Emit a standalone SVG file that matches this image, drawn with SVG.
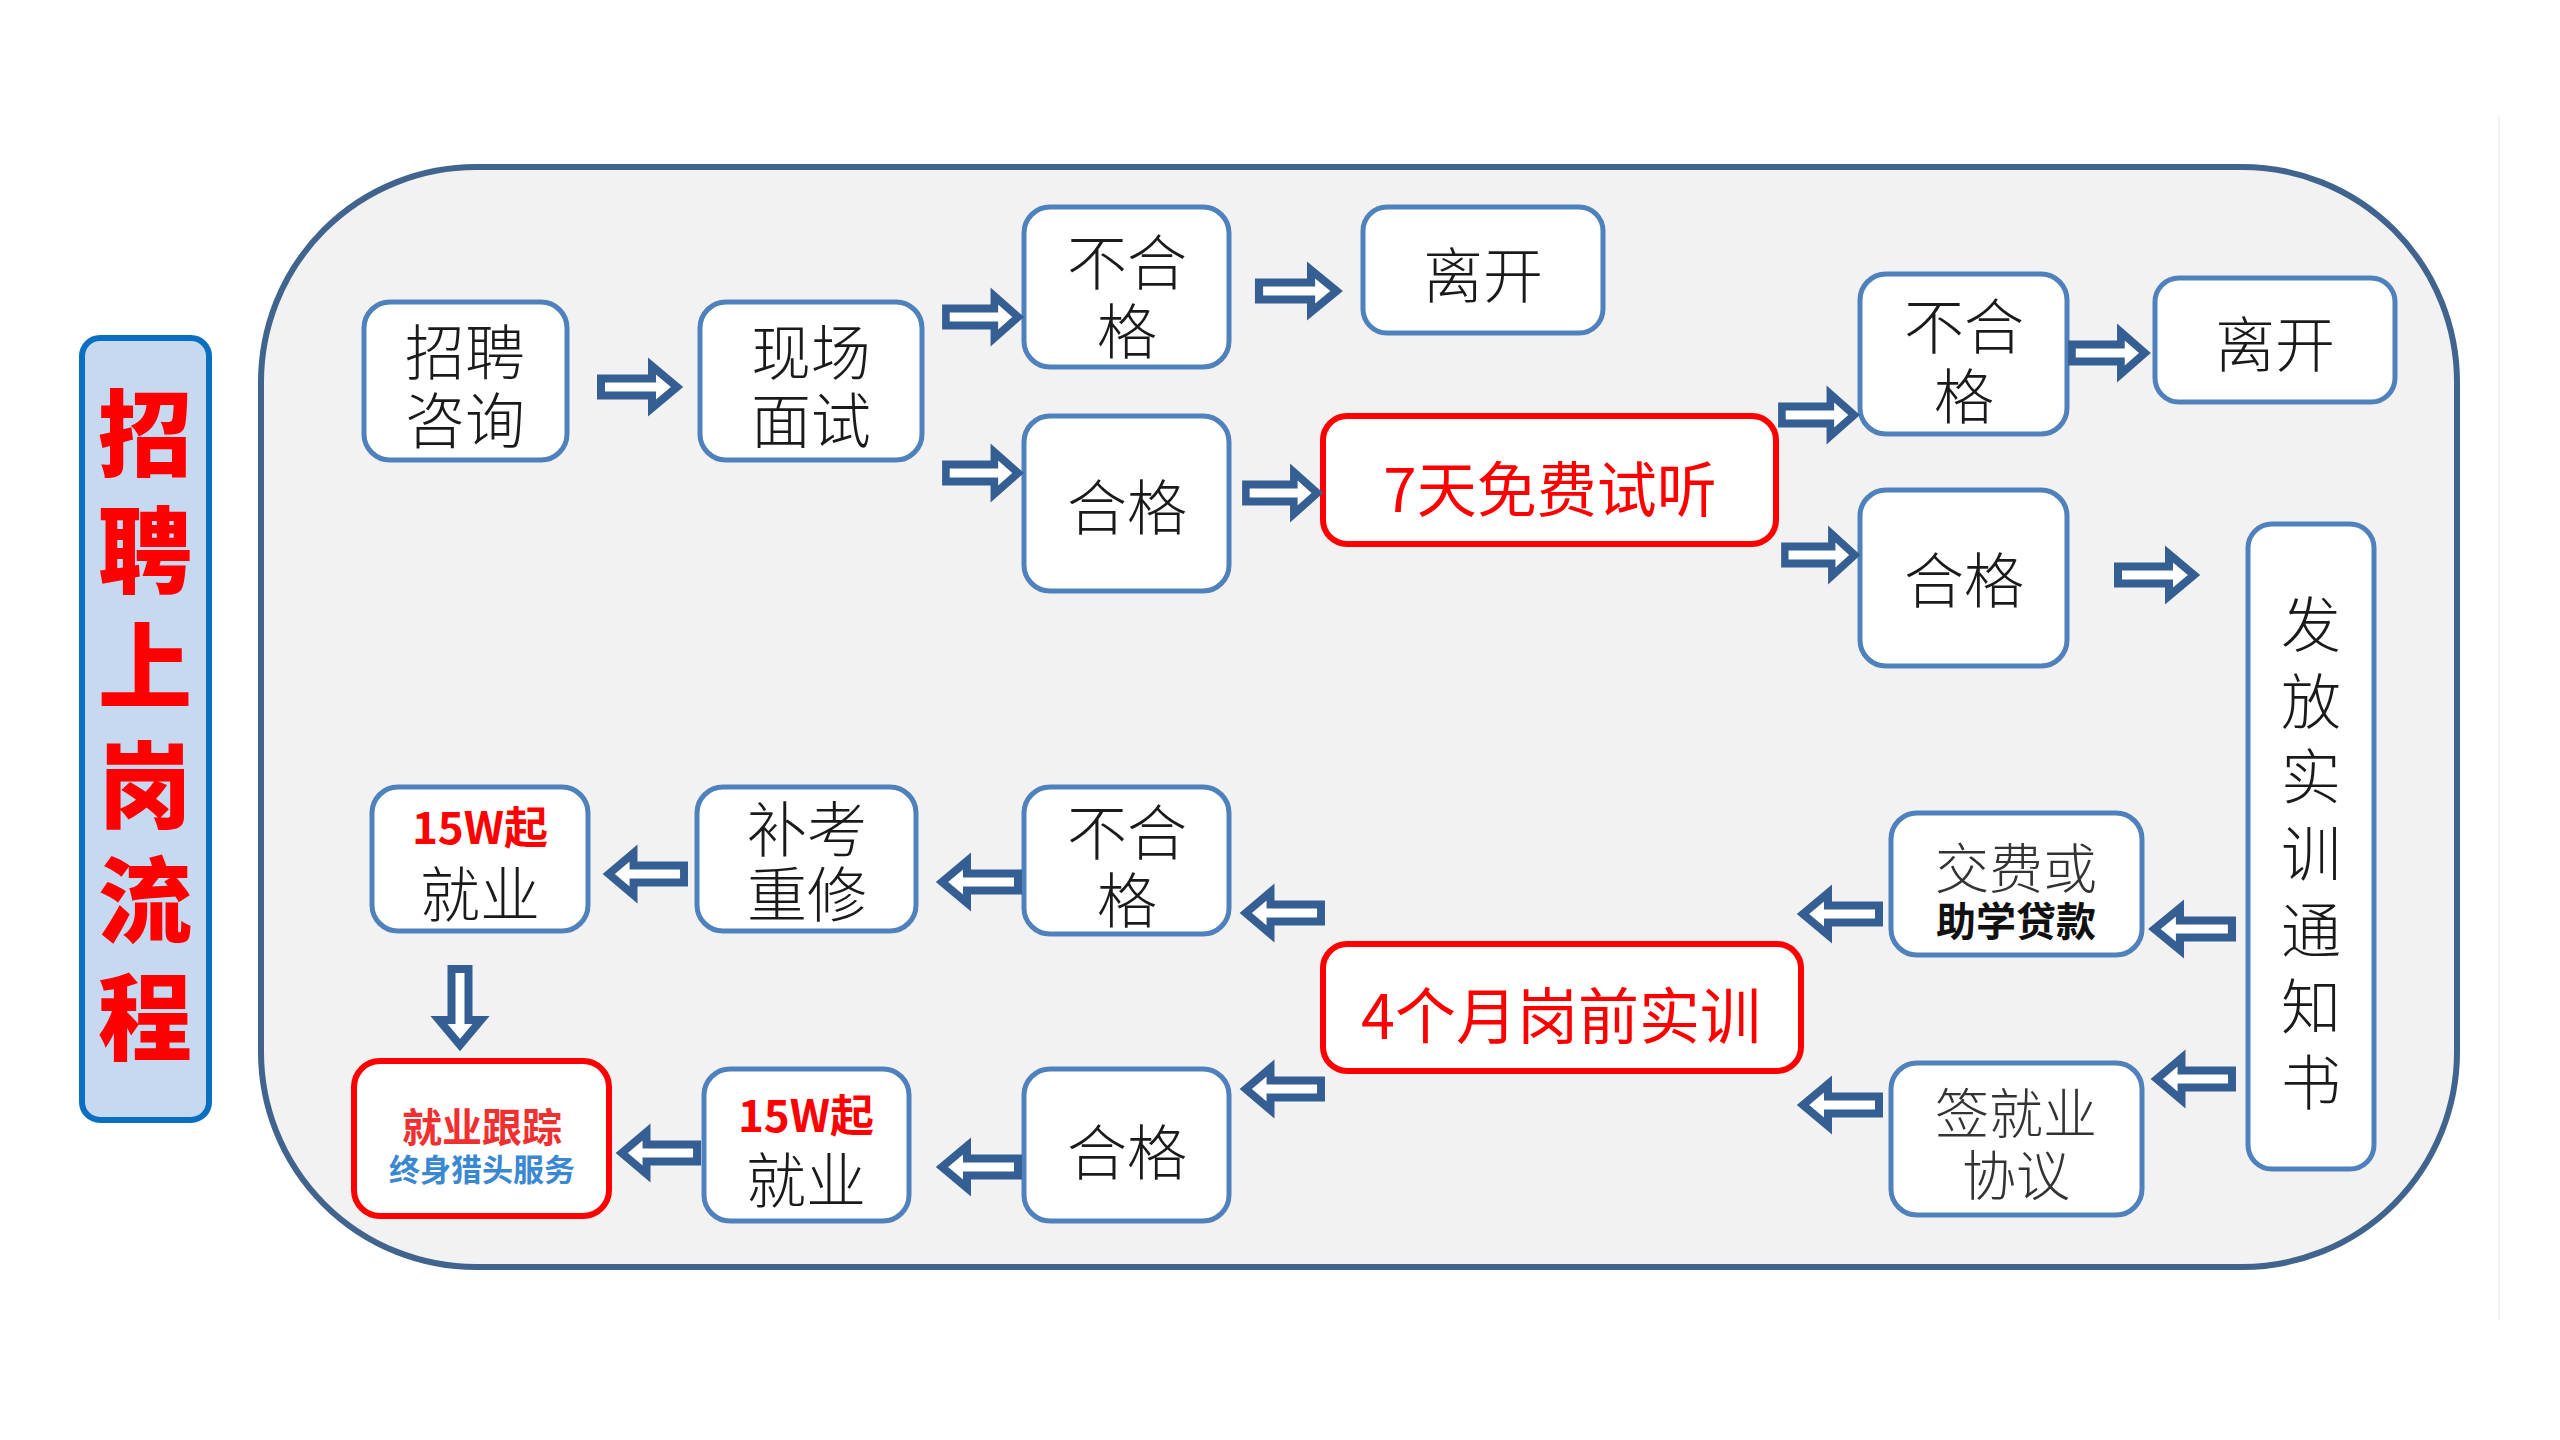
<svg xmlns="http://www.w3.org/2000/svg" width="2560" height="1440" viewBox="0 0 2560 1440">
<style>
.box{fill:#ffffff;stroke:#4f81bd;stroke-width:5}
.rbox{fill:#ffffff;stroke:#ff0000;stroke-width:6}
.t{font-family:"Noto Sans CJK SC","Noto Sans",sans-serif;font-size:60px;fill:#1a1a1a;text-anchor:middle;dominant-baseline:central;font-weight:300}
.rt{font-family:"Noto Sans CJK SC","Noto Sans",sans-serif;font-size:60px;fill:#ff0000;text-anchor:middle;dominant-baseline:central;font-weight:400}
.b{font-family:"Noto Sans CJK SC","Noto Sans",sans-serif;text-anchor:middle;dominant-baseline:central;font-weight:700}
.title{font-family:"Noto Sans CJK SC","Noto Sans",sans-serif;font-size:94px;fill:#ff0000;text-anchor:middle;dominant-baseline:central;font-weight:900}
.arr{fill:#ffffff;stroke:#355e93;stroke-width:8;stroke-linejoin:miter;stroke-miterlimit:6}
</style>
<defs>
<path id="a" class="arr" d="M2,-8.5 H53 V-21 L78,0 L53,21 V8.5 H2 Z"/>
</defs>
<rect x="0" y="0" width="2560" height="1440" fill="#ffffff"/>
<line x1="2499" y1="115" x2="2499" y2="1320" stroke="#f3f3f3" stroke-width="2"/>
<g id="container">
<rect x="261" y="167" width="2196" height="1100" rx="215" ry="215" fill="#f2f2f2" stroke="#41648f" stroke-width="6"/>
</g>
<g id="title">
<rect x="82" y="338" width="127" height="782" rx="18" ry="18" fill="#c6d9f0" stroke="#0a6fc2" stroke-width="6"/>
<text class="title" x="145" y="428">招</text>
<text class="title" x="145" y="545">聘</text>
<text class="title" x="145" y="661">上</text>
<text class="title" x="145" y="780">岗</text>
<text class="title" x="145" y="895">流</text>
<text class="title" x="145" y="1012">程</text>
</g>
<g id="n-zixun">
<rect class="box" x="364" y="302" width="203" height="158" rx="26"/>
<text class="t" x="465" y="348">招聘</text>
<text class="t" x="465" y="416">咨询</text>
</g>
<g id="n-mianshi">
<rect class="box" x="700" y="302" width="222" height="158" rx="26"/>
<text class="t" x="811" y="348">现场</text>
<text class="t" x="811" y="416">面试</text>
</g>
<g id="n-buhege1">
<rect class="box" x="1024" y="207" width="205" height="160" rx="26"/>
<text class="t" x="1127" y="258">不合</text>
<text class="t" x="1127" y="327">格</text>
</g>
<g id="n-likai1">
<rect class="box" x="1363" y="207" width="240" height="126" rx="24"/>
<text class="t" x="1483" y="271">离开</text>
</g>
<g id="n-hege1">
<rect class="box" x="1024" y="416" width="205" height="175" rx="26"/>
<text class="t" x="1127" y="503">合格</text>
</g>
<g id="n-shiting">
<rect class="rbox" x="1323" y="416" width="453" height="128" rx="24"/>
<text class="rt" x="1550" y="485">7天免费试听</text>
</g>
<g id="n-buhege2">
<rect class="box" x="1860" y="274" width="207" height="160" rx="26"/>
<text class="t" x="1964" y="322">不合</text>
<text class="t" x="1964" y="392">格</text>
</g>
<g id="n-likai2">
<rect class="box" x="2155" y="278" width="240" height="124" rx="24"/>
<text class="t" x="2275" y="340">离开</text>
</g>
<g id="n-hege2">
<rect class="box" x="1860" y="490" width="207" height="176" rx="26"/>
<text class="t" x="1964" y="576">合格</text>
</g>
<g id="n-tongzhi">
<rect class="box" x="2248" y="524" width="126" height="645" rx="24"/>
<text class="t" x="2311" y="620">发</text>
<text class="t" x="2311" y="697">放</text>
<text class="t" x="2311" y="772">实</text>
<text class="t" x="2311" y="849">训</text>
<text class="t" x="2311" y="926">通</text>
<text class="t" x="2311" y="1002">知</text>
<text class="t" x="2311" y="1078">书</text>
</g>
<g id="n-jiaofei">
<rect class="box" x="1891" y="813" width="251" height="142" rx="26"/>
<text class="t" x="2016" y="865" style="font-size:54px;fill:#333">交费或</text>
<text class="b" x="2016" y="919" style="font-size:40px;fill:#111">助学贷款</text>
</g>
<g id="n-xieyi">
<rect class="box" x="1891" y="1063" width="251" height="152" rx="26"/>
<text class="t" x="2016" y="1110" style="font-size:54px;fill:#333">签就业</text>
<text class="t" x="2016" y="1172" style="font-size:54px;fill:#333">协议</text>
</g>
<g id="n-shixun">
<rect class="rbox" x="1323" y="944" width="478" height="127" rx="24"/>
<text class="rt" x="1561" y="1012" style="font-size:61px">4个月岗前实训</text>
</g>
<g id="n-buhege3">
<rect class="box" x="1024" y="787" width="205" height="147" rx="26"/>
<text class="t" x="1127" y="828">不合</text>
<text class="t" x="1127" y="896">格</text>
</g>
<g id="n-hege3">
<rect class="box" x="1024" y="1069" width="205" height="152" rx="26"/>
<text class="t" x="1127" y="1148">合格</text>
</g>
<g id="n-bukao">
<rect class="box" x="697" y="787" width="219" height="144" rx="26"/>
<text class="t" x="807" y="825">补考</text>
<text class="t" x="807" y="890">重修</text>
</g>
<g id="n-jiuye1">
<rect class="box" x="372" y="787" width="216" height="144" rx="26"/>
<text class="b" x="480" y="825" style="font-size:44px;fill:#ff0000">15W起</text>
<text class="t" x="480" y="890">就业</text>
</g>
<g id="n-jiuye2">
<rect class="box" x="704" y="1069" width="205" height="152" rx="26"/>
<text class="b" x="806" y="1113" style="font-size:44px;fill:#ff0000">15W起</text>
<text class="t" x="806" y="1176">就业</text>
</g>
<g id="n-genzong">
<rect class="rbox" x="354" y="1061" width="255" height="155" rx="26"/>
<text class="b" x="482" y="1125" style="font-size:40px;fill:#f03030">就业跟踪</text>
<text class="b" x="482" y="1167" style="font-size:31px;fill:#3a88d2">终身猎头服务</text>
</g>
<g id="connectors">
<use href="#a" transform="translate(599,387)"/>
<use href="#a" transform="translate(944,317) scale(0.95,1)"/>
<use href="#a" transform="translate(944,473) scale(0.95,1)"/>
<use href="#a" transform="translate(1257,291) scale(1.02,1)"/>
<use href="#a" transform="translate(1244,493) scale(0.94,1)"/>
<use href="#a" transform="translate(1780,415) scale(0.95,1)"/>
<use href="#a" transform="translate(1783,555) scale(0.92,1)"/>
<use href="#a" transform="translate(2070,353) scale(0.96,1)"/>
<use href="#a" transform="translate(2116,575)"/>
<use href="#a" transform="translate(2234,929) scale(-1.02,1)"/>
<use href="#a" transform="translate(2234,1079) scale(-0.99,1)"/>
<use href="#a" transform="translate(1881,914) scale(-1,1)"/>
<use href="#a" transform="translate(1881,1105) scale(-1,1)"/>
<use href="#a" transform="translate(1323,913) scale(-0.99,1)"/>
<use href="#a" transform="translate(1323,1089) scale(-0.99,1)"/>
<use href="#a" transform="translate(1020,882) scale(-1,1)"/>
<use href="#a" transform="translate(686,874) scale(-0.99,1)"/>
<use href="#a" transform="translate(1020,1167) scale(-1,1)"/>
<use href="#a" transform="translate(699,1153) scale(-0.99,1)"/>
<use href="#a" transform="translate(460,967) rotate(90)"/>
</g>
</svg>
